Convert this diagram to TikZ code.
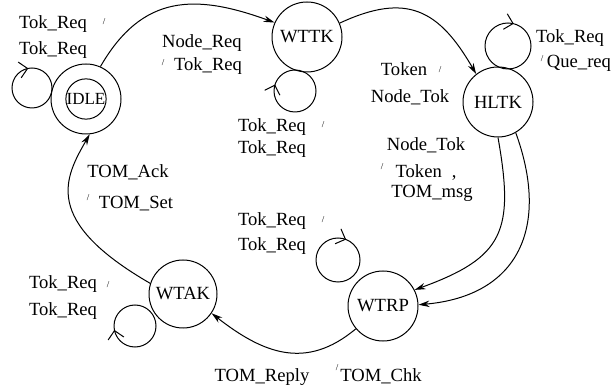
\documentclass[tikz,border=0pt]{standalone}
\usepackage{fontspec}
\setmainfont{Liberation Serif}
\usetikzlibrary{arrows.meta,decorations.markings}

\begin{document}
\begin{tikzpicture}[
        x=0.5pt, y=0.5pt, line width=0.5pt,
        font=\fontsize{9.3}{11}\selectfont,
        state/.style={draw, circle, minimum size=35pt, inner sep=0pt},
        lbl/.style={anchor=base, inner sep=0pt},
        sl/.style={font=\fontsize{4.5}{5}\selectfont, inner sep=0pt},
        arr/.style={-{Stealth[length=5.5pt,width=3.2pt]}},
        selfloop/.style={postaction={decorate}, decoration={markings,
            mark=at position #1 with {\arrowreversed{Straight Barb[length=4pt,width=8pt]}}}}
    ]
        \useasboundingbox (0,0) rectangle (614,390);

        % states
        \node[state, minimum size=20pt, font=\fontsize{8.5}{10}\selectfont] (idle) at (86,291) {IDLE};
        \node[state] (idleo) at (86,291) {};
        \node[state] (wttk) at (307,353) {WTTK};
        \node[state] (hltk) at (498,288) {HLTK};
        \node[state, minimum size=34pt] (wtak) at (183,96) {WTAK};
        \node[state] (wtrp) at (383,84) {WTRP};

        % self loops
        \coordinate (idleloop) at (32,302);
        \coordinate (wttkloop) at (295,299);
        \coordinate (hltkloop) at (508,344);
        \coordinate (wtrploop) at (338,130);
        \coordinate (wtakloop) at (135,64);
        \draw[selfloop=0.28] (idleloop) circle[radius=10pt];
        \draw[selfloop=0.45] (wttkloop) circle[radius=10.5pt];
        \draw[selfloop=0.21] (hltkloop) circle[radius=11.5pt];
        \draw[selfloop=0.19] (wtrploop) circle[radius=11pt];
        \draw[selfloop=0.53] (wtakloop) circle[radius=10.5pt];

        % transitions
        \draw[arr] (idleo.66) to[out=60, in=160, looseness=1.2] (wttk.156);
        \draw[arr] (wttk.23) to[out=25, in=120, looseness=1.3] (hltk.128);
        \draw[arr] (hltk.-90) to[out=-80, in=20, looseness=1.4] (wtrp.27);
        \draw[arr] (hltk.-60) to[out=-70, in=5, looseness=1.3] (wtrp.2);
        \draw[arr] (wtrp.220) to[out=-140, in=-38, looseness=1.15] (wtak.-34);
        \draw[arr] (wtak.162) to[out=150, in=-120, out looseness=2, in looseness=0.8] (idleo.-84);

        % labels
        \node[lbl] (lidlea) at (53,361) {Tok\_Req};
        \node[sl] (lidles) at (104,368) {/};
        \node[lbl] (lidleb) at (53,335) {Tok\_Req};

        \node[lbl] (lreqa) at (202,342) {Node\_Req};
        \node[sl] (lreqs) at (163,327) {/};
        \node[lbl] (lreqb) at (208,319) {Tok\_Req};

        \node[lbl] (ltoka) at (404,314) {Token};
        \node[sl] (ltoks) at (440,320) {/};
        \node[lbl] (ltokb) at (410,287) {Node\_Tok};

        \node[lbl] (lhltka) at (570,347) {Tok\_Req};
        \node[sl] (lhltks) at (542,331) {/};
        \node[lbl] (lhltkb) at (579,322) {Que\_req};

        \node[lbl] (lwttka) at (272,258) {Tok\_Req};
        \node[sl] (lwttks) at (323,265) {/};
        \node[lbl] (lwttkb) at (272,236) {Tok\_Req};

        \node[lbl] (lmsga) at (426,239) {Node\_Tok};
        \node[sl] (lmsgs) at (382,223) {/};
        \node[lbl] (lmsgb) at (426,212) {Token\hspace{5pt},};
        \node[lbl] (lmsgc) at (432,192) {TOM\_msg};

        \node[lbl] (lwtrpa) at (272,164) {Tok\_Req};
        \node[sl] (lwtrps) at (323,170) {/};
        \node[lbl] (lwtrpb) at (272,139) {Tok\_Req};

        \node[lbl] (lacka) at (128,212) {TOM\_Ack};
        \node[sl] (lacks) at (88,192) {/};
        \node[lbl] (lackb) at (136,181) {TOM\_Set};

        \node[lbl] (lwtaka) at (63,101) {Tok\_Req};
        \node[sl] (lwtaks) at (108,105) {/};
        \node[lbl] (lwtakb) at (63,74) {Tok\_Req};

        \node[lbl] (lrepa) at (262,9) {TOM\_Reply};
        \node[sl] (lreps) at (337,22) {/};
        \node[lbl] (lrepb) at (381,9) {TOM\_Chk};
    \end{tikzpicture}
\end{document}
